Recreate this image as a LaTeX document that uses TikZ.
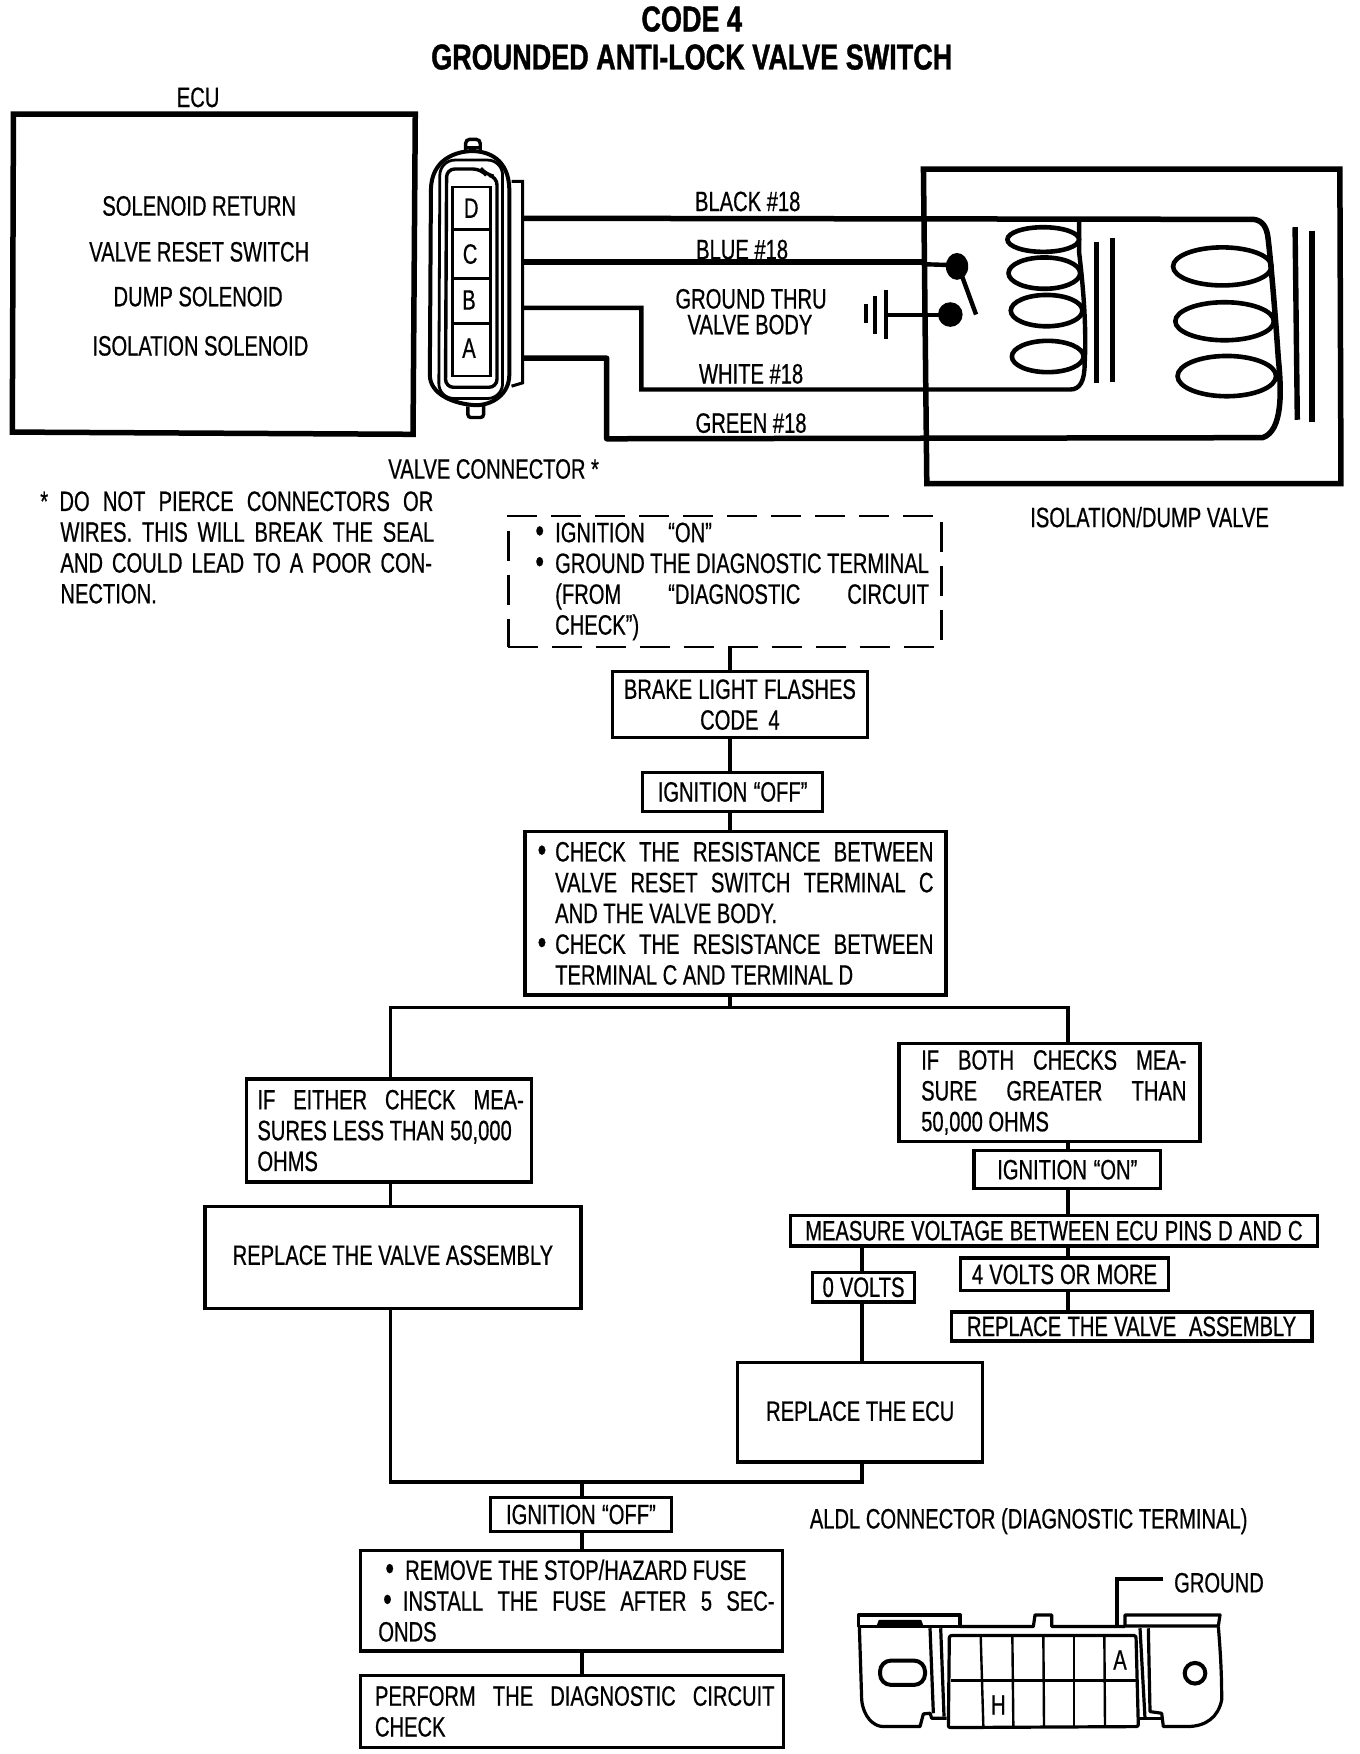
\documentclass[tikz,border=0pt]{standalone}
\usepackage{fontspec}
\setmainfont{Liberation Sans}[FakeStretch=0.72,FakeBold=0.6]
\newfontfamily\titlefont{Liberation Sans}[FakeStretch=0.75,FakeBold=1]
\newdimen\unitD \unitD=1.1193pt
% line helpers: offset from box left, optional width
\newcommand\jl[3]{\hspace*{#1\unitD}\makebox[#2\unitD][s]{#3}}
\newcommand\pl[2]{\hspace*{#1\unitD}#2}
\newcommand\bul[1]{\llap{\fontsize{34}{31}\selectfont\textbullet\hspace{#1\unitD}}}
\tikzset{
  txt/.style={inner sep=0pt,outer sep=0pt,font=\fontsize{28}{30.8}\selectfont,text=black},
  flow/.style={draw=black,line width=3.4pt,inner sep=0pt,outer sep=0pt,align=left,fill=white,font=\fontsize{28}{30.8}\selectfont},
  flowc/.style={flow,align=center},
  dashbox/.style={flow,line width=2.8pt,dash pattern=on 30pt off 14pt},
  link/.style={line width=3.4pt},
  heavy/.style={line width=5.5pt},
  wire/.style={line width=5.5pt,line join=round},
  coil/.style={line width=4.6pt},
  alpart/.style={line width=3.2pt,line join=round},
  alcell/.style={line width=2.4pt},
}
\newcommand\bx[7][flow]{%
  \pgfmathsetmacro\bw{(#5-#3)*1.1193}%
  \pgfmathsetmacro\bh{(#6-#4)*1.1193}%
  \pgfmathsetmacro\bcx{(#3+#5)/2}%
  \pgfmathsetmacro\bcy{(#4+#6)/2}%
  \node[#1,minimum width=\bw pt,minimum height=\bh pt,text width=\bw pt] (#2) at (\bcx,\bcy) {\spaceskip=0pt\xspaceskip=0pt #7};}
\begin{document}
\begin{tikzpicture}[x=1.1193pt,y=-1.1193pt]
\useasboundingbox (0,0) rectangle (1215,1567);
\fill[white] (0,0) rectangle (1215,1567);
% titles
\node[txt,font=\titlefont\bfseries\fontsize{36}{38}\selectfont] (t1) at (618,17) {CODE 4};
\node[txt,font=\titlefont\bfseries\fontsize{36}{38}\selectfont] (t2) at (618,51) {GROUNDED ANTI-LOCK VALVE SWITCH};
% ECU
\node[txt] (ecul) at (177,87) {ECU};
\draw[heavy] (12,102) -- (371,102) -- (369,388) -- (11,386) -- cycle;
\node[txt] (e1) at (178,184) {SOLENOID RETURN};
\node[txt] (e2) at (178,225) {VALVE RESET SWITCH};
\node[txt] (e3) at (177,265) {DUMP SOLENOID};
\node[txt] (e4) at (179,309) {ISOLATION SOLENOID};
% valve connector
\draw[line width=3.4pt,rounded corners=4pt] (416,136) -- (416,124.5) -- (429,124.5) -- (429,136);
\draw[line width=2.6pt] (417,132) -- (428,132);
\draw[line width=3.4pt,rounded corners=3pt] (418,363) -- (418,373) -- (432,373) -- (432,361);
\draw[line width=4pt] (385,170) .. controls (385,142) and (408,135) .. (422,135) .. controls (436,135) and (455,142) .. (455,170) -- (455,335) .. controls (455,352) and (440,362) .. (425,362) .. controls (405,361) and (384,352) .. (384,335) -- cycle;
\draw[line width=2.8pt,rounded corners=15pt] (393,143) -- (449,143) -- (449,356) -- (392,356) -- cycle;
\draw[line width=3.4pt,rounded corners=8pt] (399,151) -- (430,151) -- (434,156) -- (444,158) -- (444,346) -- (398,346) -- cycle;
\draw[line width=3pt] (457,162) -- (467,162) -- (467,342) -- (457,345);
\draw[line width=2.6pt] (404,167) -- (438,167) -- (438,336) -- (404,336) -- cycle;
\foreach \yy in {205,249,289} \draw[line width=3pt] (404,\yy) -- (438,\yy);
\node[txt] (pinD) at (421,186) {D};
\node[txt] (pinC) at (420,227) {C};
\node[txt] (pinB) at (419,268) {B};
\node[txt] (pinA) at (419,311) {A};
\node[txt] (vcl) at (441,419) {VALVE CONNECTOR *};
% valve housing
\draw[heavy] (825,151) -- (1197,151) -- (1198,432) -- (828,432) -- cycle;
% named wire ends
\coordinate (wD) at (467,195);
\coordinate (wC) at (467,234);
\coordinate (wB) at (467,275);
\coordinate (wA) at (467,320);
\coordinate (sw1) at (855,237);
\coordinate (sw2) at (849,281);
\coordinate (swend) at (872,281);
% wires
\draw[wire] (wD) -- (1120,196) .. controls (1128,197) and (1132,203) .. (1133,214) .. controls (1136,240) and (1140,290) .. (1142,320) .. controls (1145,350) and (1146,385) .. (1128,391) -- (542,392) -- (542,320) -- (wA);
\draw[wire] (wC) -- (824,234);
\draw[line width=4.4pt] (824,236) -- (sw1);
\draw[line width=4.4pt] (wB) -- (573,275) -- (573,348) -- (956,348) .. controls (965,348) and (969,340) .. (969,325) .. controls (971,290) and (967,250) .. (964,225) -- (964,198);
\fill (855,238) ellipse [x radius=10,y radius=12];
\draw[line width=4.4pt] (857,240) -- (swend);
\fill (849,281) ellipse [x radius=11,y radius=11];
\draw[line width=4pt] (793,281) -- (sw2);
\draw[line width=4pt] (791.5,259) -- (791.5,303);
\draw[line width=4pt] (782,264) -- (782,298);
\draw[line width=4pt] (773.5,272) -- (773.5,289);
% left coil
\draw[coil] (932,214) ellipse [x radius=32,y radius=11];
\draw[coil] (933,244) ellipse [x radius=32,y radius=14];
\draw[coil] (935,277.5) ellipse [x radius=32,y radius=14];
\draw[coil] (936,318.5) ellipse [x radius=32,y radius=14];
\draw[line width=5pt] (980,216) -- (980,342);
\draw[line width=5pt] (994,213) -- (994,341);
% right coil
\draw[coil] (1092,238) ellipse [x radius=44,y radius=17];
\draw[coil] (1094,287) ellipse [x radius=44,y radius=17];
\draw[coil] (1096,336) ellipse [x radius=44,y radius=18];
\draw[line width=5.4pt] (1157,203) -- (1159,375);
\draw[line width=5.4pt] (1172,206) -- (1172,377);
% wire labels
\node[txt] (lblack) at (668,180) {BLACK \#18};
\node[txt] (lblue) at (663,223) {BLUE \#18};
\node[txt] (lgnd) at (671,267) {GROUND THRU};
\node[txt] (lgnd2) at (670,290) {VALVE BODY};
\node[txt] (lwhite) at (671,334) {WHITE \#18};
\node[txt] (lgreen) at (671,378) {GREEN \#18};
\node[txt] (lvalve) at (1027,462) {ISOLATION/DUMP VALVE};
% note
\node[txt,anchor=north west,align=left] (note) at (0,439) {\pl{36}{\raisebox{0pt}[0pt][0pt]{*}\hspace{11\unitD}}\hspace*{-1pt}\makebox[334\unitD][s]{DO NOT PIERCE CONNECTORS OR}\\
\pl{54}{\makebox[334\unitD][s]{WIRES. THIS WILL BREAK THE SEAL}}\\
\pl{54}{\makebox[332\unitD][s]{AND COULD LEAD TO A POOR CON-}}\\
\pl{54}{NECTION.}};
% flow boxes
\bx[dashbox]{dash}{454}{461}{841}{578}{\jl{42}{140}{\bul{10}IGNITION “ON”}\\
\jl{42}{334}{\bul{10}GROUND THE DIAGNOSTIC TERMINAL}\\
\jl{42}{334}{(FROM “DIAGNOSTIC CIRCUIT}\\
\pl{42}{CHECK”)}}
\bx[flowc]{brake}{547}{600}{775}{659}{BRAKE LIGHT FLASHES\\CODE 4}
\bx[flowc]{off1}{574}{690}{735}{725}{IGNITION “OFF”}
\bx{check}{469}{743}{845}{889}{\jl{27}{338}{\bul{8}CHECK THE RESISTANCE BETWEEN}\\
\jl{27}{338}{VALVE RESET SWITCH TERMINAL C}\\
\pl{27}{AND THE VALVE BODY.}\\
\jl{27}{338}{\bul{8}CHECK THE RESISTANCE BETWEEN}\\
\pl{27}{TERMINAL C AND TERMINAL D}}
\bx{either}{220}{964}{475}{1056}{\jl{10}{238}{IF EITHER CHECK MEA-}\\
\pl{10}{SURES LESS THAN 50,000}\\
\pl{10}{OHMS}}
\bx[flowc]{repv}{183}{1078}{519}{1169}{\raisebox{5pt}{REPLACE THE VALVE ASSEMBLY}\hspace*{12pt}}
\bx{both}{803}{932}{1072}{1020}{\jl{20}{237}{IF BOTH CHECKS MEA-}\\
\jl{20}{237}{SURE GREATER THAN}\\
\pl{20}{50,000 OHMS}}
\bx[flowc]{on2}{870}{1028}{1037}{1062}{IGNITION “ON”}
\bx[flowc]{meas}{706}{1086}{1177}{1113}{MEASURE VOLTAGE BETWEEN ECU PINS D AND C}
\bx[flowc]{zero}{726}{1137}{817}{1163}{0 VOLTS}
\bx[flowc]{four}{858}{1124}{1044}{1153}{4 VOLTS OR MORE}
\bx[flowc]{repv2}{850}{1172}{1172}{1198}{REPLACE THE VALVE ~ASSEMBLY}
\bx[flowc]{repe}{659}{1217}{878}{1306}{\raisebox{2pt}{REPLACE THE ECU}}
\bx[flowc]{off2}{438}{1338}{600}{1368}{IGNITION “OFF”}
\bx{remove}{322}{1385}{699}{1475}{\pl{40}{\bul{10}REMOVE THE STOP/HAZARD FUSE}\\
\jl{38}{332}{\bul{10}INSTALL THE FUSE AFTER 5 SEC-}\\
\pl{16}{ONDS}}
\bx{perform}{322}{1497}{700}{1561}{\jl{13}{357}{PERFORM THE DIAGNOSTIC CIRCUIT}\\
\pl{13}{CHECK}}
% flow connectors
\coordinate (a) at (652,0);
\coordinate (b) at (349,0);
\coordinate (c) at (954,0);
\coordinate (d) at (770,0);
\coordinate (e) at (520,0);
\coordinate (split) at (652,900);
\coordinate (merge) at (520,1324);
\draw[link] (a |- dash.south) -- (a |- brake.north);
\draw[link] (a |- brake.south) -- (a |- off1.north);
\draw[link] (a |- off1.south) -- (a |- check.north);
\draw[link] (a |- check.south) -- (split);
\draw[link] (b |- either.north) -- (b |- split) -- (c |- split) -- (c |- both.north);
\draw[link] (b |- either.south) -- (b |- repv.north);
\draw[link] (b |- repv.south) -- (b |- merge) -- (d |- merge) -- (d |- repe.south);
\draw[link] (c |- both.south) -- (c |- on2.north);
\draw[link] (c |- on2.south) -- (c |- meas.north);
\draw[link] (d |- meas.south) -- (d |- zero.north);
\draw[link] (d |- zero.south) -- (d |- repe.north);
\draw[link] (c |- meas.south) -- (c |- four.north);
\draw[link] (c |- four.south) -- (c |- repv2.north);
\draw[link] (merge) -- (e |- off2.north);
\draw[link] (e |- off2.south) -- (e |- remove.north);
\draw[link] (e |- remove.south) -- (e |- perform.north);
% ALDL
\node[txt] (ald) at (919,1359) {ALDL CONNECTOR (DIAGNOSTIC TERMINAL)};
\node[txt,anchor=west] (gnd) at (1049,1414) {GROUND};
\begin{scope}[shift={(732.6,1340)},x=0.3333pt,y=-0.3333pt]
\coordinate (lead) at (890,378);
\coordinate (leadend) at (1030,238);
\draw[line width=3.8pt] (leadend) -- (890,238) -- (lead);
\draw[alpart] (115,380) -- (115,345) -- (420,345) -- (420,380) -- cycle;
\draw[alpart] (118,380) -- (125,600) .. controls (130,650) and (160,680) .. (190,680) -- (300,680) -- (310,642) -- (330,640) -- (335,655) -- (380,655);
\draw[alpart] (330,385) -- (340,640);
\draw[alpart] (362,385) -- (372,650);
\draw[line width=3.4pt,fill=black] (175,378) -- (180,365) -- (300,365) -- (305,378);
\draw[alpart] (420,380) -- (640,380) -- (645,345) -- (695,345) -- (695,380) -- (915,380);
\draw[alpart] (915,378) -- (915,345) -- (1200,345) -- (1195,378) -- cycle;
\draw[alpart] (1195,380) .. controls (1205,500) and (1205,560) .. (1205,600) .. controls (1195,650) and (1160,680) .. (1100,680) -- (1030,680) -- (1025,640) -- (990,635) -- (985,385);
\draw[alpart] (960,385) -- (975,655);
\draw[alpart] (950,655) -- (1025,655);
\draw[alpart,rounded corners=2pt] (388,407) -- (948,407) -- (955,680) -- (385,683) -- cycle;
\draw[alcell] (392,542) -- (950,542);
\foreach \ta/\tb in {482/490,577/580,670/672,762/762,853/855}
  \draw[alcell] (\ta,407) -- (\tb,680);
\draw[line width=4pt,rounded corners=11pt] (180,482) rectangle (315,555);
\draw[line width=4pt] (1125,520) circle [radius=31];
\node[txt] (pA) at (900,480) {A};
\node[txt] (pH) at (535,615) {H};
\end{scope}
\end{tikzpicture}
\end{document}
